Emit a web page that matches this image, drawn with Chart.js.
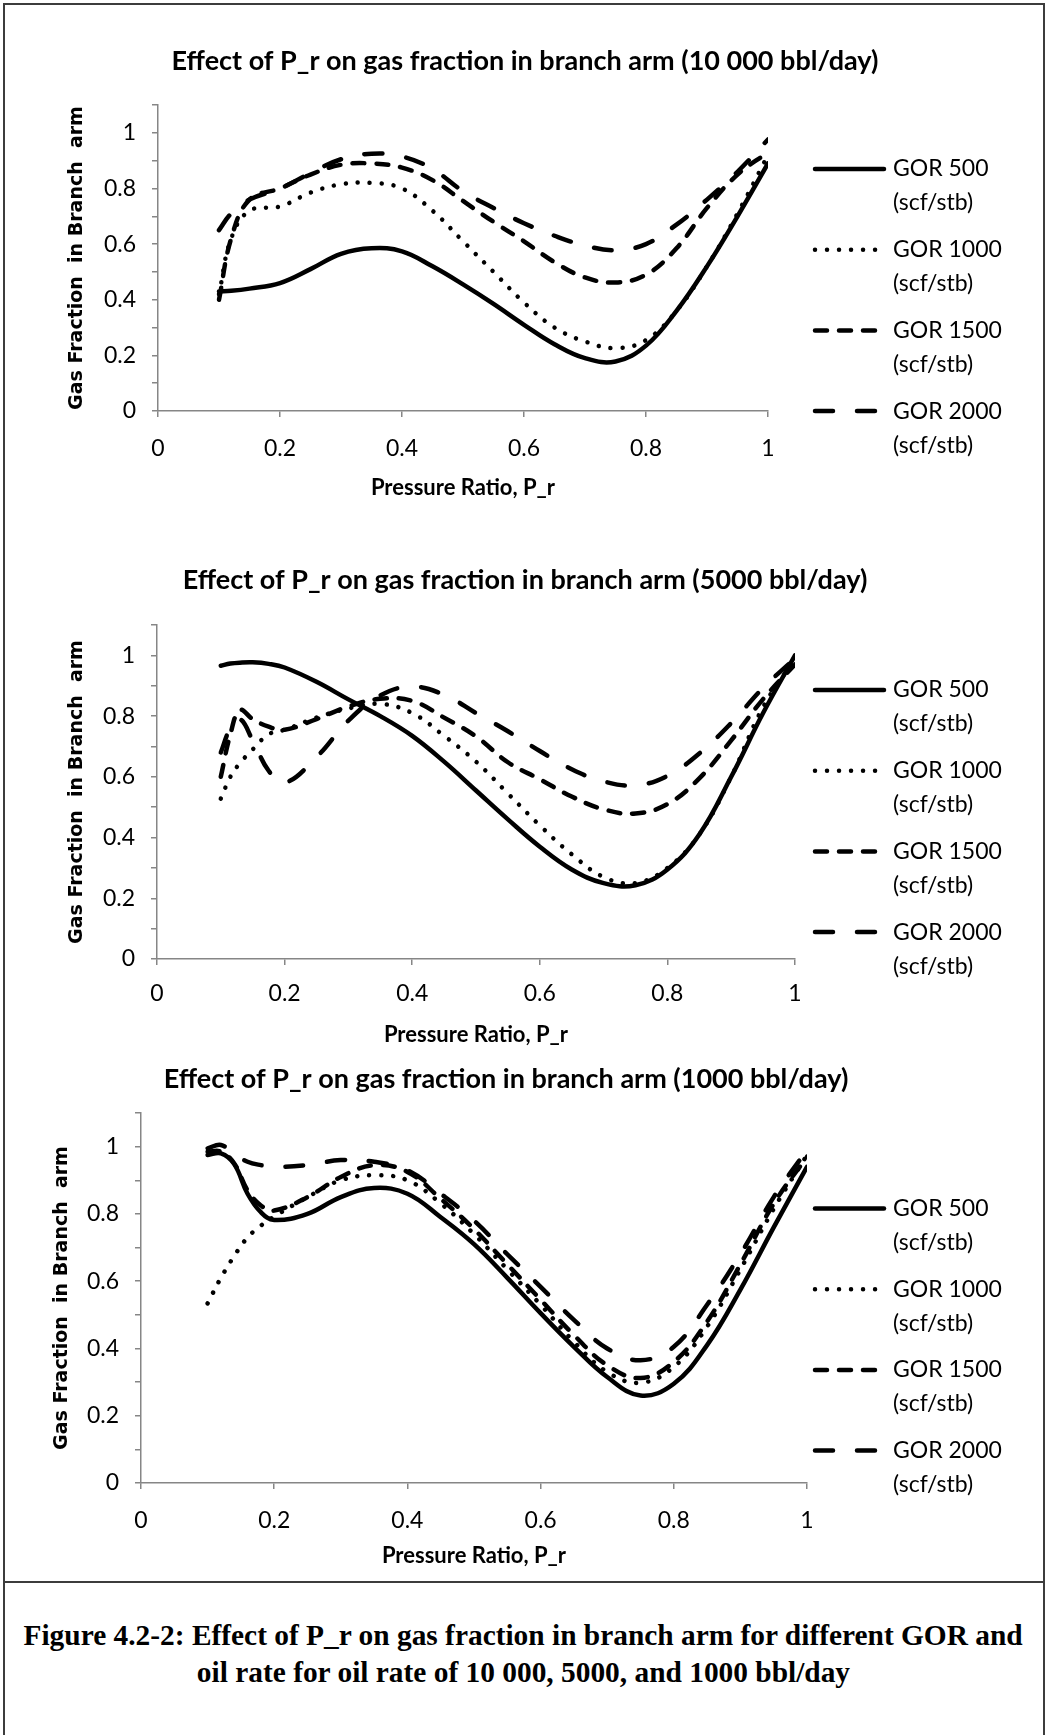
<!DOCTYPE html>
<html>
<head>
<meta charset="utf-8">
<script src="https://cdn.jsdelivr.net/npm/chart.js@4.4.1/dist/chart.umd.min.js"></script>
<style>
  html, body { margin: 0; padding: 0; background: #fff; }
  #page { position: relative; width: 1046px; height: 1735px; overflow: hidden; background: #fff; }
  #frame { position: absolute; left: 3px; top: 3px; width: 1038px; height: 1760px; border: 2px solid #3c3c3c; }
  #rule { position: absolute; left: 3px; top: 1581px; width: 1042px; height: 2px; background: #3c3c3c; }
  canvas { position: absolute; left: 0; }
  .cap { position: absolute; left: 0; width: 1046px; text-align: center; white-space: nowrap; color: #000;
         font: bold 30px "Liberation Serif", "Times New Roman", serif; line-height: 37px; }
  .cap span { display: inline-block; transform-origin: 50% 50%; }
</style>
</head>
<body>
<div id="page">
  <div id="frame"></div>
  <div id="rule"></div>
  <canvas id="c1" width="1050" height="512" style="top:8px"></canvas>
  <canvas id="c2" width="1050" height="530" style="top:530px"></canvas>
  <canvas id="c3" width="1012" height="520" style="top:1060px"></canvas>
  <div class="cap" id="cap1" style="top:1616px"><span>Figure 4.2-2: Effect of P_r on gas fraction in branch arm for different GOR and</span></div>
  <div class="cap" id="cap2" style="top:1653px"><span>oil rate for oil rate of 10 000, 5000, and 1000 bbl/day</span></div>
</div>
<script>
// ---- data -------------------------------------------------------------
const gorLabels = ['GOR 500', 'GOR 1000', 'GOR 1500', 'GOR 2000'];
const gorUnit = '(scf/stb)';
const yAxisTitle = 'Gas Fraction  in Branch  arm';
const xAxisTitle = 'Pressure Ratio, P_r';

// 10 000 bbl/day
const pr10000 = [0.1, 0.12, 0.15, 0.2, 0.25, 0.3, 0.35, 0.4, 0.45, 0.5, 0.55, 0.6, 0.65, 0.7, 0.75, 0.8, 0.85, 0.9, 0.95, 1.0];
const gor500_10000  = [0.43, 0.432, 0.44, 0.46, 0.51, 0.565, 0.585, 0.574, 0.52, 0.455, 0.385, 0.31, 0.24, 0.19, 0.178, 0.235, 0.36, 0.52, 0.70, 0.89];
const gor1000_10000 = [0.42, 0.62, 0.72, 0.735, 0.785, 0.815, 0.82, 0.80, 0.72, 0.61, 0.5, 0.39, 0.3, 0.25, 0.226, 0.255, 0.36, 0.52, 0.71, 0.92];
const gor1500_10000 = [0.40, 0.62, 0.76, 0.80, 0.85, 0.885, 0.89, 0.875, 0.83, 0.755, 0.68, 0.61, 0.535, 0.48, 0.462, 0.49, 0.585, 0.73, 0.85, 0.93];
const gor2000_10000 = [0.65, 0.71, 0.76, 0.80, 0.855, 0.905, 0.925, 0.915, 0.87, 0.79, 0.73, 0.675, 0.63, 0.595, 0.578, 0.60, 0.67, 0.76, 0.86, 0.976];

// 5000 bbl/day
const pr5000 = [0.1, 0.115, 0.13, 0.15, 0.175, 0.2, 0.25, 0.3, 0.35, 0.4, 0.45, 0.5, 0.55, 0.6, 0.65, 0.7, 0.75, 0.8, 0.85, 0.9, 0.95, 1.0];
const gor500_5000  = [0.966, 0.973, 0.976, 0.977, 0.972, 0.96, 0.913, 0.855, 0.80, 0.735, 0.65, 0.555, 0.46, 0.37, 0.295, 0.25, 0.243, 0.295, 0.41, 0.6, 0.81, 1.0];
const gor1000_5000 = [0.528, 0.6, 0.645, 0.69, 0.74, 0.755, 0.795, 0.825, 0.84, 0.81, 0.735, 0.65, 0.545, 0.44, 0.345, 0.27, 0.25, 0.3, 0.41, 0.6, 0.83, 0.988];
const gor1500_5000 = [0.6, 0.74, 0.82, 0.79, 0.765, 0.755, 0.79, 0.832, 0.857, 0.85, 0.795, 0.733, 0.648, 0.592, 0.535, 0.493, 0.479, 0.51, 0.595, 0.72, 0.856, 0.97];
const gor2000_5000 = [0.68, 0.76, 0.79, 0.72, 0.62, 0.58, 0.665, 0.785, 0.868, 0.897, 0.87, 0.81, 0.75, 0.685, 0.625, 0.585, 0.572, 0.603, 0.677, 0.777, 0.893, 0.99];

// 1000 bbl/day
const pr1000 = [0.1, 0.12, 0.14, 0.16, 0.18, 0.2, 0.25, 0.3, 0.35, 0.4, 0.45, 0.5, 0.55, 0.6, 0.65, 0.7, 0.75, 0.8, 0.85, 0.9, 0.95, 1.0];
const gor500_1000  = [0.975, 0.98, 0.948, 0.86, 0.805, 0.782, 0.8, 0.85, 0.877, 0.86, 0.79, 0.71, 0.61, 0.505, 0.405, 0.315, 0.26, 0.295, 0.41, 0.575, 0.76, 0.94];
const gor1000_1000 = [0.534, 0.61, 0.675, 0.73, 0.765, 0.792, 0.85, 0.9, 0.915, 0.9, 0.831, 0.74, 0.635, 0.53, 0.42, 0.33, 0.298, 0.345, 0.465, 0.635, 0.815, 0.975];
const gor1500_1000 = [0.985, 0.985, 0.95, 0.87, 0.825, 0.81, 0.85, 0.91, 0.945, 0.925, 0.845, 0.755, 0.65, 0.545, 0.44, 0.35, 0.312, 0.36, 0.48, 0.65, 0.83, 0.97];
const gor2000_1000 = [0.995, 1.005, 0.978, 0.955, 0.945, 0.94, 0.945, 0.96, 0.955, 0.93, 0.86, 0.78, 0.68, 0.583, 0.485, 0.40, 0.365, 0.405, 0.53, 0.68, 0.85, 0.99];

// ---- styling ----------------------------------------------------------
const INK = '#000';
const AXIS_GREY = '#868686';
const LINE_W = 4.5;
const lineStyles = [
  { borderDash: [] },          // solid
  { borderDash: [0.01, 12] },  // round dots
  { borderDash: [12, 12] },    // short dash
  { borderDash: [18, 24] }     // long dash
];

function fmt(v) { return String(Math.round(v * 10) / 10); }

// Two-line legend drawn beside each plot, using each dataset's own stroke style
const gorLegend = {
  id: 'gorLegend',
  afterDatasetsDraw(chart, args, o) {
    const ctx = chart.ctx;
    ctx.save();
    chart.data.datasets.forEach((ds, i) => {
      const y = o.top + i * o.step;
      ctx.beginPath();
      ctx.lineWidth = ds.borderWidth;
      ctx.lineCap = 'round';
      ctx.setLineDash(ds.borderDash);
      ctx.strokeStyle = ds.borderColor;
      ctx.moveTo(o.x0, y);
      ctx.lineTo(o.x1, y);
      ctx.stroke();
      ctx.setLineDash([]);
      ctx.fillStyle = INK;
      ctx.font = '23px Lato';
      ctx.textAlign = 'left';
      ctx.textBaseline = 'middle';
      ctx.fillText(ds.label, o.textX, y);
      ctx.fillText(gorUnit, o.textX, y + o.lineGap);
    });
    ctx.restore();
  }
};

function buildChart(id, spec) {
  const series = spec.series.map((vals, i) => ({
    label: gorLabels[i],
    data: spec.pr.map((x, k) => ({ x: x, y: vals[k] })),
    borderColor: INK,
    borderWidth: LINE_W,
    borderCapStyle: 'round',
    borderJoinStyle: 'round',
    borderDash: lineStyles[i].borderDash,
    pointRadius: 0,
    pointHoverRadius: 0,
    fill: false,
    tension: 0.4
  }));

  const tickGrid = { drawOnChartArea: false, drawTicks: true, tickLength: 6, color: AXIS_GREY, lineWidth: 1.5 };

  return new Chart(document.getElementById(id), {
    type: 'line',
    data: { datasets: series },
    plugins: [gorLegend],
    options: {
      responsive: false,
      animation: false,
      devicePixelRatio: 1,
      layout: { padding: { left: 0, right: 0, top: 0, bottom: spec.padBottom } },
      scales: {
        x: {
          type: 'linear', min: 0, max: 1,
          ticks: { stepSize: 0.2, padding: spec.xTickPad, color: INK, font: { family: 'Lato', size: 23 },
                   autoSkip: false, maxRotation: 0, callback: v => fmt(v) },
          grid: tickGrid,
          border: { color: AXIS_GREY, width: 1.5 },
          title: { display: true, text: xAxisTitle, color: INK,
                   font: { family: 'Lato', size: 22, weight: 'bold', lineHeight: 1.2 },
                   padding: { top: 0, bottom: spec.xTitlePad } },
          afterFit(s) { s.height = 95; }
        },
        y: {
          type: 'linear', min: 0, max: 1.1,
          ticks: { stepSize: 0.1, padding: 16, color: INK, font: { family: 'Lato', size: 23 }, autoSkip: false,
                   callback: v => (Math.round(v * 10) % 2 === 0 ? fmt(v) : '') },
          grid: tickGrid,
          border: { color: AXIS_GREY, width: 1.5 },
          title: { display: true, text: yAxisTitle, color: INK,
                   font: { family: 'DejaVu Sans', size: 19, weight: 'bold', lineHeight: 1.2 },
                   padding: { top: spec.yTitlePad, bottom: 0 } },
          afterFit(s) { s.width = spec.plotLeft; }
        },
        // empty right-hand band that holds the legend
        side: {
          type: 'linear', position: 'right', display: true,
          grid: { display: false }, border: { display: false }, ticks: { display: false },
          afterFit(s) { s.width = spec.sideWidth; }
        }
      },
      plugins: {
        legend: { display: false },
        tooltip: { enabled: false },
        title: {
          display: true, text: spec.title, color: INK,
          font: { family: 'Lato', size: 27, weight: 'bold', lineHeight: 1.2 },
          padding: { top: spec.titlePadTop, bottom: spec.titlePadBottom }
        },
        gorLegend: { x0: 815, x1: 884, textX: 893, top: spec.legendTop, step: 80.7, lineGap: 34 }
      }
    }
  });
}

function drawAll() {
  buildChart('c1', {
    title: 'Effect of P_r on gas fraction in branch arm (10 000 bbl/day)',
    pr: pr10000,
    series: [gor500_10000, gor1000_10000, gor1500_10000, gor2000_10000],
    plotLeft: 158, sideWidth: 1050 - 768,
    titlePadTop: 36.8, titlePadBottom: 27.8,
    xTickPad: 18, xTitlePad: 4.8, yTitlePad: 65.5, padBottom: 14,
    legendTop: 161
  });
  buildChart('c2', {
    title: 'Effect of P_r on gas fraction in branch arm (5000 bbl/day)',
    pr: pr5000,
    series: [gor500_5000, gor1000_5000, gor1500_5000, gor2000_5000],
    plotLeft: 157, sideWidth: 1050 - 795,
    titlePadTop: 33.8, titlePadBottom: 28.8,
    xTickPad: 15, xTitlePad: 5.8, yTitlePad: 65.5, padBottom: 6,
    legendTop: 160
  });
  buildChart('c3', {
    title: 'Effect of P_r on gas fraction in branch arm (1000 bbl/day)',
    pr: pr1000,
    series: [gor500_1000, gor1000_1000, gor1500_1000, gor2000_1000],
    plotLeft: 141, sideWidth: 1012 - 807,
    titlePadTop: 2.8, titlePadBottom: 17.8,
    xTickPad: 18, xTitlePad: 8.8, yTitlePad: 50.5, padBottom: 2,
    legendTop: 148.5
  });

  // caption lines set in a condensed bold serif
  const s1 = document.querySelector('#cap1 span');
  const s2 = document.querySelector('#cap2 span');
  const k = 999 / s1.offsetWidth;
  s1.style.transform = 'scaleX(' + k + ')';
  s2.style.transform = 'scaleX(' + k + ')';
}

Promise.all([
  document.fonts.load('23px Lato'),
  document.fonts.load('bold 27px Lato'),
  document.fonts.load('bold 19px "DejaVu Sans"'),
  document.fonts.load('bold 30px "Liberation Serif"')
]).then(drawAll, drawAll);
</script>
</body>
</html>
